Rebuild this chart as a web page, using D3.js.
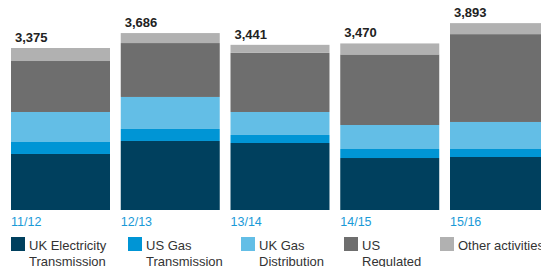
<!DOCTYPE html>
<html lang="en">
<head>
    <meta charset="UTF-8">
    <title>Segments</title>
    <style>
        body { margin: 0; background: #fff; }
        text { font-family: "Liberation Sans", Arial, sans-serif; }
    </style>
</head>
<body>
<script src="https://d3js.org/d3.v7.min.js"></script>
<script>
    // chart values
    const years = ["11/12", "12/13", "13/14", "14/15", "15/16"];
    const totals = [3375, 3686, 3441, 3470, 3893];
    const ukElectricity = [1167, 1438, 1396, 1083, 1104];
    const usGas = [250, 250, 167, 188, 167];
    const ukGas = [625, 667, 479, 500, 563];
    const usRegulated = [1062, 1123, 1232, 1470, 1830];
    const otherActivities = [271, 208, 167, 229, 229];
    const seriesNames = ["UK Electricity\nTransmission", "US Gas\nTransmission", "UK Gas\nDistribution", "US\nRegulated", "Other activities"];

    const colors = ["#00405e", "#0095d5", "#63bee6", "#6e6e6e", "#b1b1b1"];
    const width = 541, height = 267;

    const svg = d3.select("body").append("svg")
        .attr("width", width)
        .attr("height", height);

    const rows = years.map((y, i) => ({
        year: y,
        total: totals[i],
        s0: ukElectricity[i], s1: usGas[i], s2: ukGas[i], s3: usRegulated[i], s4: otherActivities[i]
    }));
    const keys = ["s0", "s1", "s2", "s3", "s4"];
    const stacked = d3.stack().keys(keys)(rows);

    // scales
    const x = d3.scaleBand()
        .domain(years)
        .range([11, 549])
        .paddingInner(0.098)
        .paddingOuter(0);

    const y = d3.scaleLinear()
        .domain([0, 4000])
        .range([210, 18]);

    // bars
    svg.selectAll(".layer")
        .data(stacked)
        .enter().append("g")
        .attr("fill", (d, i) => colors[i])
        .selectAll("rect")
        .data(d => d)
        .enter().append("rect")
        .attr("x", d => x(d.data.year))
        .attr("width", x.bandwidth())
        .attr("y", d => y(d[1]))
        .attr("height", d => y(d[0]) - y(d[1]));

    // totals
    svg.selectAll(".total")
        .data(rows)
        .enter().append("text")
        .attr("x", d => x(d.year) + 4)
        .attr("y", d => y(d3.sum(keys, k => d[k])) - 6)
        .attr("font-size", 13)
        .attr("font-weight", "bold")
        .attr("fill", "#222")
        .text(d => d3.format(",")(d.total));

    // category labels
    svg.selectAll(".year")
        .data(years)
        .enter().append("text")
        .attr("x", d => x(d))
        .attr("y", 226)
        .attr("font-size", 12.5)
        .attr("fill", "#1a9ad7")
        .text(d => d);

    // legend
    const legendX = [11, 128, 241, 344, 440];
    const legend = svg.selectAll(".legend")
        .data(seriesNames)
        .enter().append("g")
        .attr("transform", (d, i) => "translate(" + legendX[i] + ",237)");

    legend.append("rect")
        .attr("width", 14)
        .attr("height", 14)
        .attr("fill", (d, i) => colors[i]);

    legend.append("text")
        .attr("x", 18)
        .attr("y", 13)
        .attr("font-size", 13)
        .attr("fill", "#333")
        .selectAll("tspan")
        .data(d => d.split("\n"))
        .enter().append("tspan")
        .attr("x", 18)
        .attr("dy", (d, i) => i === 0 ? 0 : 16)
        .text(d => d);
</script>
</body>
</html>
